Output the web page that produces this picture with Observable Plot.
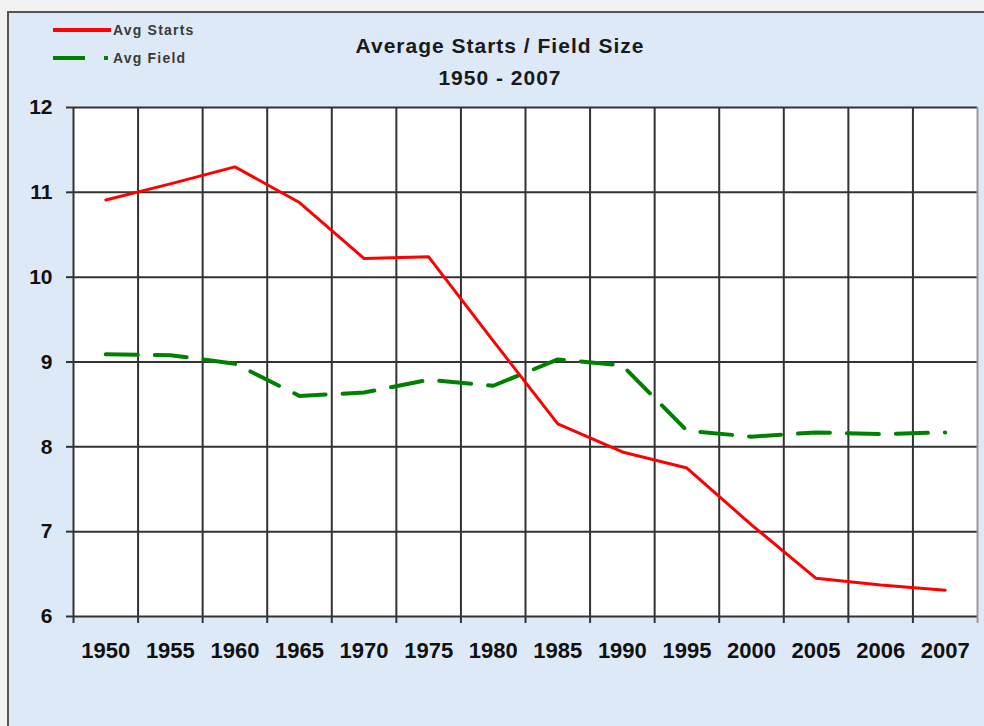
<!DOCTYPE html>
<html>
<head>
<meta charset="utf-8">
<script src="https://cdn.jsdelivr.net/npm/d3@7"></script>
<script src="https://cdn.jsdelivr.net/npm/@observablehq/plot@0.6"></script>
<style>
  html, body { margin: 0; padding: 0; background: #f2f2f2; }
  #wrap { position: relative; width: 984px; height: 726px; overflow: hidden; background: #f2f2f2; font-family: "Liberation Sans", Arial, sans-serif; }
  #panel { position: absolute; left: 7px; top: 11px; width: 1100px; height: 800px; border-left: 2px solid #555; border-top: 2px solid #555; background: #dde9f7; }
  #chart { position: absolute; left: 0; top: 0; }
  .ttl { position: absolute; left: 0; width: 1000px; text-align: center; font-weight: bold; font-size: 21px; line-height: 21px; letter-spacing: 1px; color: #1a1a1a; }
  .leg { position: absolute; left: 113px; font-weight: bold; font-size: 14px; line-height: 14px; letter-spacing: 1.2px; color: #3a3a3a; white-space: nowrap; }
  .sw { position: absolute; height: 4px; }
</style>
</head>
<body>
<div id="wrap">
  <div id="panel"></div>
  <div id="chart"></div>
  <div class="ttl" id="title" style="top:35px"></div>
  <div class="ttl" id="subtitle" style="top:67px"></div>
  <div class="sw" style="left:53px; top:28px; width:58px; background:#ff0000;"></div>
  <div class="leg" id="leg0" style="top:23px"></div>
  <div class="sw" style="left:53px; top:56px; width:32px; background:#008000;"></div>
  <div class="sw" style="left:104px; top:56px; width:4px; background:#008000;"></div>
  <div class="leg" id="leg1" style="top:51px"></div>
</div>
<script>
// ---- data ----
const titleText = "Average Starts / Field Size";
const subtitleText = "1950 - 2007";
const seriesNames = ["Avg Starts", "Avg Field"];
const years = ["1950", "1955", "1960", "1965", "1970", "1975", "1980", "1985", "1990", "1995", "2000", "2005", "2006", "2007"];
const avgStarts = [10.91, 11.10, 11.30, 10.88, 10.22, 10.24, 9.25, 8.27, 7.94, 7.75, 7.08, 6.45, 6.37, 6.31];
const avgField = [9.09, 9.08, 8.98, 8.60, 8.64, 8.79, 8.72, 9.03, 8.96, 8.19, 8.12, 8.17, 8.15, 8.17];
const yTicks = [6, 7, 8, 9, 10, 11, 12];

document.getElementById("title").textContent = titleText;
document.getElementById("subtitle").textContent = subtitleText;
document.getElementById("leg0").textContent = seriesNames[0];
document.getElementById("leg1").textContent = seriesNames[1];

const idx = years.map((_, i) => i);
const bounds = d3.range(years.length + 1).map(i => i - 0.5);
const innerBounds = bounds.slice(0, -1);
const lastBound = bounds.slice(-1);

const chart = Plot.plot({
  width: 984,
  height: 726,
  marginTop: 107,
  marginBottom: 110,
  marginLeft: 73,
  marginRight: 7,
  style: { background: "transparent", fontFamily: "'Liberation Sans', Arial, sans-serif", overflow: "visible" },
  x: { type: "linear", domain: [bounds[0], bounds[bounds.length - 1]] },
  y: { domain: [yTicks[0], yTicks[yTicks.length - 1]] },
  marks: [
    Plot.frame({ fill: "white", stroke: null }),
    Plot.gridY(yTicks, { stroke: "#333", strokeOpacity: 1, strokeWidth: 2 }),
    Plot.gridX(innerBounds, { stroke: "#333", strokeOpacity: 1, strokeWidth: 2 }),
    Plot.ruleX(lastBound, { stroke: "#999", strokeWidth: 2 }),
    Plot.axisY(yTicks, { tickSize: 7, tickPadding: 14, fontSize: 21, fontWeight: "bold", stroke: "#333", strokeWidth: 2, fill: "#111", label: null, tickFormat: d => String(d) }),
    Plot.axisX(innerBounds, { tickSize: 7, stroke: "#333", strokeWidth: 2, tickFormat: () => "", label: null }),
    Plot.axisX(lastBound, { tickSize: 7, stroke: "#999", strokeWidth: 2, tickFormat: () => "", label: null }),
    Plot.axisX(idx, { tickSize: 0, tickPadding: 26, fontSize: 22, fontWeight: "bold", fill: "#111", tickFormat: i => years[i], label: null }),
    Plot.line(idx, { x: i => i, y: i => avgField[i], stroke: "#008000", strokeWidth: 4, strokeDasharray: "32,17" }),
    Plot.line(idx, { x: i => i, y: i => avgStarts[i], stroke: "#ff0000", strokeWidth: 3 })
  ]
});
document.getElementById("chart").appendChild(chart);
</script>
</body>
</html>
